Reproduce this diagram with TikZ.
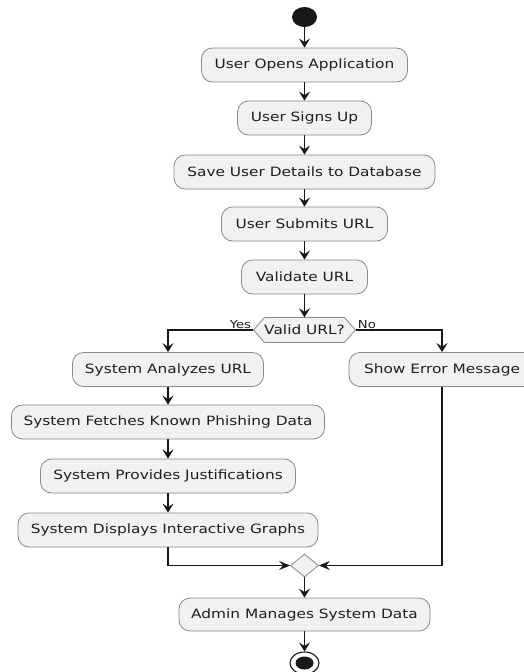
\documentclass[tikz,border=0pt]{standalone}
\usepackage{fontspec}
\setmainfont{DejaVu Sans}[FakeStretch=1.2]
\usetikzlibrary{arrows.meta,shapes.geometric}
\definecolor{actfill}{HTML}{F1F1F1}
\definecolor{actline}{HTML}{181818}
\definecolor{actborder}{HTML}{8A8A8A}
\begin{document}
\begin{tikzpicture}[x=1pt,y=-1pt,
  act/.style={draw=actborder, line width=0.8pt, fill=actfill, rounded corners=11pt,
    minimum height=34pt, inner sep=0pt, text=black!88,
    font=\fontsize{12.8}{15}\selectfont},
  flow/.style={draw=actline, line width=1.1pt,
    -{Stealth[length=9pt,width=11pt,inset=3.5pt]}},
  hflow/.style={draw=actline, line width=1.1pt,
    -{Stealth[length=11pt,width=9pt,inset=4pt]}},
  lbl/.style={inner sep=0pt, text=black!88, font=\fontsize{11}{13}\selectfont},
  ]
\clip (0,0) rectangle (524,672);
\fill[white] (0,0) rectangle (524,672);

% start and end markers
\node[ellipse, fill=actline, minimum width=25pt, minimum height=20pt, inner sep=0pt] (start) at (304.5,17) {};
\node[ellipse, draw=actline, line width=1.1pt, fill=white, minimum width=29pt, minimum height=22pt, inner sep=0pt,
  path picture={\fill[actline] (path picture bounding box.center) ellipse [x radius=9pt, y radius=6.5pt];}]
  (stop) at (304.5,663) {};

% main column
\node[act, minimum width=206pt] (n1) at (304.5,65) {User Opens Application};
\node[act, minimum width=134pt] (n2) at (304.5,118) {User Signs Up};
\node[act, minimum width=261pt] (n3) at (304.5,172) {Save User Details to Database};
\node[act, minimum width=166pt] (n4) at (304.5,224) {User Submits URL};
\node[act, minimum width=126pt] (n5) at (304.5,277) {Validate URL};

% decision: hexagon outline first, then the text node on top of it
\coordinate (dc) at (304.5,330);
\draw[draw=actborder, line width=0.8pt, fill=actfill]
  ([xshift=-51pt]dc) -- ([xshift=-40pt,yshift=12.5pt]dc) -- ([xshift=40pt,yshift=12.5pt]dc)
  -- ([xshift=51pt]dc) -- ([xshift=40pt,yshift=-12.5pt]dc) -- ([xshift=-40pt,yshift=-12.5pt]dc) -- cycle;
\node[lbl, font=\fontsize{12.8}{15}\selectfont, minimum width=102pt, minimum height=25pt] (d1) at (dc) {Valid URL?};
\node[lbl, anchor=south east, xshift=-2pt, yshift=1pt] (yes) at (d1.west) {Yes};
\node[lbl, anchor=south west, xshift=2pt, yshift=1pt] (no) at (d1.east) {No};

% left branch
\node[act, minimum width=191pt] (a1) at (168,369.5) {System Analyzes URL};
\node[act, minimum width=313pt] (f1) at (168,422) {System Fetches Known Phishing Data};
\node[act, minimum width=255pt] (j1) at (168,476) {System Provides Justifications};
\node[act, minimum width=300pt] (g1) at (168,530) {System Displays Interactive Graphs};

% right branch
\node[act, minimum width=186pt] (e1) at (442,369.5) {Show Error Message};

% merge and final step
\node[diamond, draw=actborder, line width=0.8pt, fill=actfill, minimum width=28pt, minimum height=23pt, inner sep=0pt] (mg) at (304.5,565.5) {};
\node[act, minimum width=251pt, minimum height=33pt] (m1) at (304.5,614.5) {Admin Manages System Data};

% connectors
\draw[flow] (start) -- (n1);
\draw[flow] (n1) -- (n2);
\draw[flow] (n2) -- (n3);
\draw[flow] (n3) -- (n4);
\draw[flow] (n4) -- (n5);
\draw[flow] (n5) -- (d1.north);
\draw[flow] (d1.west) -| (a1.north);
\draw[flow] (d1.east) -| (e1.north);
\draw[flow] (a1) -- (f1);
\draw[flow] (f1) -- (j1);
\draw[flow] (j1) -- (g1);
\draw[hflow] (g1.south) |- (mg.west);
\draw[hflow] (e1.south) |- (mg.east);
\draw[flow] (mg) -- (m1);
\draw[flow] (m1) -- (stop);
\end{tikzpicture}
\end{document}
